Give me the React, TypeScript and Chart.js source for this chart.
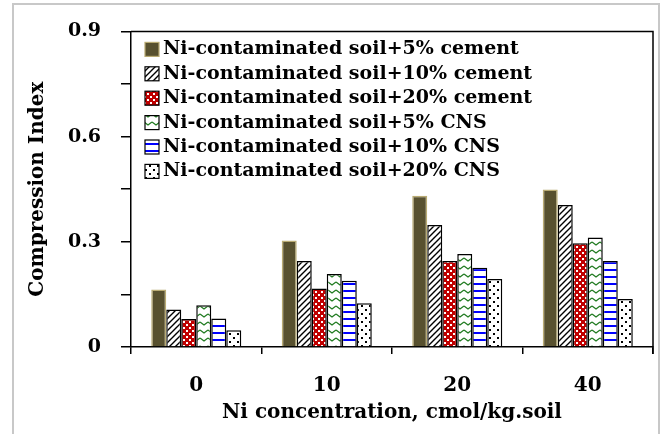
import React, { useEffect, useRef } from "react";
import { Chart, registerables } from "chart.js";

Chart.register(...registerables);

const categories = ["0", "10", "20", "40"];
const seriesLabels = [
  "Ni-contaminated soil+5% cement",
  "Ni-contaminated soil+10% cement",
  "Ni-contaminated soil+20% cement",
  "Ni-contaminated soil+5% CNS",
  "Ni-contaminated soil+10% CNS",
  "Ni-contaminated soil+20% CNS",
];
const cement5 = [0.164, 0.304, 0.431, 0.449];
const cement10 = [0.107, 0.245, 0.348, 0.405];
const cement20 = [0.08, 0.167, 0.245, 0.296];
const cns5 = [0.119, 0.208, 0.265, 0.312];
const cns10 = [0.081, 0.189, 0.226, 0.245];
const cns20 = [0.048, 0.125, 0.194, 0.137];
const yTickValues = [0, 0.3, 0.6, 0.9];
const yTickLabels = ["0", "0.3", "0.6", "0.9"];
const xTitle = "Ni concentration, cmol/kg.soil";
const yTitle = "Compression Index";

const FONT = "'DejaVu Serif', 'Liberation Serif', serif";

function makePattern(kind: string): CanvasPattern | string {
  const c = document.createElement("canvas");
  const ctx = c.getContext("2d")!;
  if (kind === "diag") {
    c.width = 6; c.height = 6;
    ctx.fillStyle = "#fff"; ctx.fillRect(0, 0, 6, 6);
    ctx.strokeStyle = "#000"; ctx.lineWidth = 1.4;
    ctx.beginPath();
    ctx.moveTo(-1, 7); ctx.lineTo(7, -1);
    ctx.moveTo(-1, 1); ctx.lineTo(1, -1);
    ctx.moveTo(5, 7); ctx.lineTo(7, 5);
    ctx.stroke();
  } else if (kind === "check") {
    c.width = 6; c.height = 6;
    ctx.fillStyle = "#c00000"; ctx.fillRect(0, 0, 6, 6);
    ctx.fillStyle = "#fff";
    ctx.fillRect(0, 0, 2, 2);
    ctx.fillRect(3, 3, 2, 2);
  } else if (kind === "chevron") {
    c.width = 8; c.height = 8;
    ctx.fillStyle = "#fff"; ctx.fillRect(0, 0, 8, 8);
    ctx.strokeStyle = "#1f7a1f"; ctx.lineWidth = 1.3;
    ctx.beginPath();
    ctx.moveTo(0, 2); ctx.lineTo(4, 5); ctx.lineTo(8, 2);
    ctx.stroke();
  } else if (kind === "hlines") {
    c.width = 6; c.height = 7;
    ctx.fillStyle = "#fff"; ctx.fillRect(0, 0, 6, 7);
    ctx.fillStyle = "#0000ff"; ctx.fillRect(0, 3, 6, 2);
  } else {
    c.width = 8; c.height = 8;
    ctx.fillStyle = "#fff"; ctx.fillRect(0, 0, 8, 8);
    ctx.fillStyle = "#000";
    ctx.fillRect(1, 1, 2, 2);
    ctx.fillRect(5, 5, 2, 2);
  }
  return ctx.createPattern(c, "repeat")!;
}

const framePlugin = {
  id: "frameAndLegend",
  beforeDraw(chart: any) {
    const ctx = chart.ctx;
    ctx.save();
    ctx.fillStyle = "#fff";
    ctx.fillRect(0, 0, chart.width, chart.height);
    ctx.strokeStyle = "#c8c8c8";
    ctx.lineWidth = 2;
    ctx.strokeRect(13, 4, 646, 440);
    ctx.restore();
  },
  afterDraw(chart: any) {
    const ctx = chart.ctx;
    const a = chart.chartArea;
    ctx.save();
    ctx.strokeStyle = "#000";
    ctx.lineWidth = 1.5;
    ctx.beginPath();
    ctx.moveTo(a.left, a.top);
    ctx.lineTo(a.right, a.top);
    ctx.lineTo(a.right, a.bottom + 7);
    ctx.stroke();
    // legend inside plot
    const x0 = a.left + 14;
    const y0 = a.top + 18;
    const step = 24.4;
    ctx.font = `bold 19px ${FONT}`;
    ctx.textBaseline = "middle";
    ctx.textAlign = "left";
    chart.data.datasets.forEach((ds: any, i: number) => {
      const cy = y0 + i * step;
      ctx.fillStyle = ds.backgroundColor;
      ctx.fillRect(x0, cy - 7, 14, 14);
      ctx.strokeStyle = ds.borderColor;
      ctx.lineWidth = 1.2;
      ctx.strokeRect(x0, cy - 7, 14, 14);
      ctx.fillStyle = "#000";
      ctx.fillText(ds.label, x0 + 18, cy);
    });
    ctx.restore();
  },
};

export default function App() {
  const ref = useRef<HTMLCanvasElement>(null);
  useEffect(() => {
    const fills = [
      "#58512f",
      makePattern("diag"),
      makePattern("check"),
      makePattern("chevron"),
      makePattern("hlines"),
      makePattern("dots"),
    ];
    const borders = ["#b9ab73", "#000", "#000", "#000", "#000", "#000"];
    const values = [cement5, cement10, cement20, cns5, cns10, cns20];
    const chart = new Chart(ref.current!, {
      type: "bar",
      data: {
        labels: categories,
        datasets: values.map((v, i) => ({
          label: seriesLabels[i],
          data: v,
          backgroundColor: fills[i] as any,
          borderColor: borders[i],
          borderWidth: 1.5,
          categoryPercentage: 0.69,
          barPercentage: 1.0,
        })),
      },
      options: {
        animation: false,
        responsive: false,
        layout: { padding: { left: 0, right: 12, top: 17, bottom: 0 } },
        plugins: { legend: { display: false }, tooltip: { enabled: false } },
        scales: {
          x: {
            offset: true,
            grid: {
              offset: true,
              drawOnChartArea: false,
              drawTicks: true,
              tickLength: 7,
              color: "#000",
              lineWidth: 1.5,
            },
            border: { display: true, color: "#000", width: 1.5 },
            ticks: {
              color: "#000",
              padding: 20,
              font: { family: FONT, size: 20, weight: "bold" },
            },
            title: {
              display: true,
              text: xTitle,
              color: "#000",
              font: { family: FONT, size: 20, weight: "bold" },
              padding: { top: 0, bottom: 9 },
            },
            afterFit: (s: any) => { s.height = 87; },
          },
          y: {
            min: 0,
            max: 0.9,
            grid: {
              drawOnChartArea: false,
              drawTicks: true,
              tickLength: 10,
              color: "#000",
              lineWidth: 1.5,
            },
            border: { display: true, color: "#000", width: 1.5 },
            ticks: {
              stepSize: 0.15,
              color: "#000",
              padding: 20,
              font: { family: FONT, size: 19, weight: "bold" },
              callback: (v: any) => {
                const idx = yTickValues.findIndex((t) => Math.abs(t - Number(v)) < 1e-6);
                return idx >= 0 ? yTickLabels[idx] : "";
              },
            },
            title: {
              display: true,
              text: yTitle,
              color: "#000",
              font: { family: FONT, size: 20, weight: "bold" },
              padding: { top: 26, bottom: 0 },
            },
            afterFit: (s: any) => { s.width = 131; },
          },
        },
      },
      plugins: [framePlugin],
    });
    return () => chart.destroy();
  }, []);
  return (
    <div style={{ position: "absolute", left: 0, top: 0, width: 665, height: 434 }}>
      <canvas ref={ref} width={665} height={434} />
    </div>
  );
}
